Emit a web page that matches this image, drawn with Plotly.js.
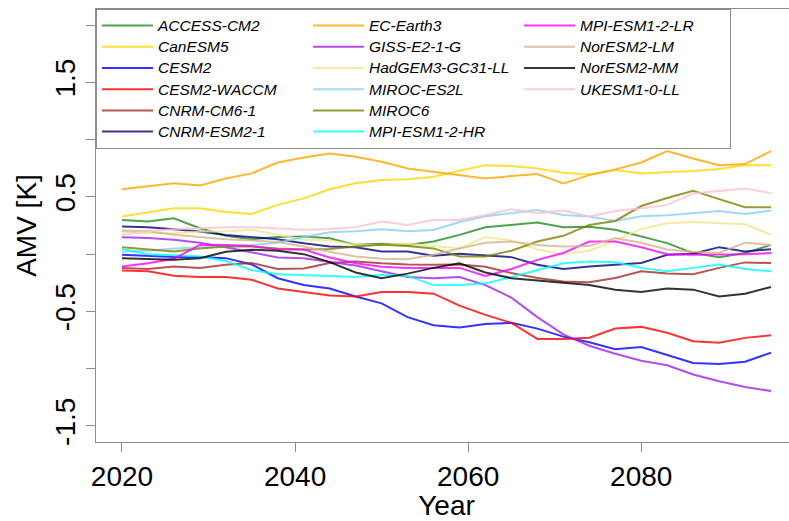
<!DOCTYPE html>
<html>
<head>
<meta charset="utf-8">
<script src="https://cdn.plot.ly/plotly-3.0.1.min.js"></script>
<style>
html,body{margin:0;padding:0;overflow:hidden;background:#fff;}
#chart{width:797px;height:521px;}
</style>
</head>
<body>
<div id="chart"></div>
<script>
// Years (3-year sampling of the annual curves)
const years = [2020,2023,2026,2029,2032,2035,2038,2041,2044,2047,2050,2053,2056,2059,2062,2065,2068,2071,2074,2077,2080,2083,2086,2089,2092,2095];

const models = ["ACCESS-CM2","CanESM5","CESM2","CESM2-WACCM","CNRM-CM6-1","CNRM-ESM2-1",
                "EC-Earth3","GISS-E2-1-G","HadGEM3-GC31-LL","MIROC-ES2L","MIROC6","MPI-ESM1-2-HR",
                "MPI-ESM1-2-LR","NorESM2-LM","NorESM2-MM","UKESM1-0-LL"];
const colors = ["#228B22","#FFD700","#0000FF","#FF0000","#A52A2A","#000080",
                "#FFA500","#A020F0","#F0E68C","#87CEFA","#808000","#00FFFF",
                "#FF00FF","#D2B48C","#000000","#FFC0CB"];

const ACCESS_CM2   = [0.299,0.284,0.313,0.226,0.160,0.130,0.150,0.155,0.139,0.081,0.090,0.080,0.110,0.168,0.235,0.255,0.276,0.235,0.240,0.212,0.154,0.096,0.009,-0.026,0.009,0.081];
const CanESM5      = [0.328,0.363,0.400,0.400,0.368,0.351,0.430,0.487,0.566,0.618,0.647,0.653,0.676,0.728,0.777,0.769,0.748,0.711,0.696,0.734,0.705,0.717,0.725,0.743,0.777,0.777];
const CESM2        = [-0.006,-0.015,-0.026,-0.026,-0.035,-0.090,-0.210,-0.270,-0.300,-0.370,-0.430,-0.550,-0.620,-0.640,-0.610,-0.600,-0.650,-0.720,-0.770,-0.830,-0.810,-0.880,-0.950,-0.960,-0.940,-0.860];
const CESM2_WACCM  = [-0.142,-0.150,-0.188,-0.200,-0.200,-0.223,-0.300,-0.330,-0.360,-0.370,-0.330,-0.330,-0.345,-0.450,-0.530,-0.600,-0.740,-0.740,-0.730,-0.650,-0.635,-0.687,-0.760,-0.774,-0.731,-0.708];
const CNRM_CM6_1   = [-0.122,-0.130,-0.107,-0.120,-0.093,-0.078,-0.130,-0.125,-0.078,-0.064,-0.080,-0.090,-0.093,-0.090,-0.110,-0.165,-0.209,-0.238,-0.246,-0.208,-0.150,-0.170,-0.175,-0.120,-0.072,-0.078];
const CNRM_ESM2_1  = [0.241,0.235,0.218,0.197,0.168,0.148,0.130,0.096,0.067,0.060,0.023,0.023,-0.015,0.003,-0.010,-0.026,-0.093,-0.130,-0.107,-0.093,-0.078,-0.006,0.003,0.061,0.023,0.043];
const EC_Earth3    = [0.566,0.595,0.618,0.600,0.661,0.705,0.800,0.844,0.879,0.850,0.806,0.748,0.720,0.690,0.661,0.682,0.699,0.618,0.690,0.740,0.800,0.900,0.835,0.777,0.786,0.900];
const GISS_E2_1_G  = [0.148,0.140,0.125,0.100,0.061,0.014,-0.030,-0.035,-0.070,-0.100,-0.150,-0.200,-0.210,-0.200,-0.270,-0.380,-0.550,-0.700,-0.800,-0.870,-0.930,-0.970,-1.050,-1.110,-1.160,-1.195];
const HadGEM3     = [0.197,0.183,0.183,0.197,0.197,0.212,0.170,0.125,0.120,0.080,0.080,0.090,0.070,0.050,0.150,0.120,0.040,0.000,0.030,0.120,0.220,0.270,0.280,0.270,0.260,0.170];
const MIROC_ES2L   = [0.020,0.030,0.050,0.060,0.070,0.080,0.100,0.150,0.190,0.200,0.218,0.200,0.210,0.280,0.330,0.357,0.386,0.342,0.328,0.290,0.330,0.340,0.357,0.377,0.350,0.380];
const MIROC6       = [0.061,0.043,0.023,0.050,0.067,0.067,0.050,0.040,0.045,0.067,0.081,0.070,0.050,-0.020,-0.020,0.030,0.110,0.160,0.255,0.290,0.420,0.490,0.554,0.480,0.410,0.410];
const MPI_HR       = [0.045,0.000,-0.010,-0.020,-0.060,-0.140,-0.175,-0.180,-0.190,-0.200,-0.180,-0.190,-0.270,-0.270,-0.255,-0.200,-0.140,-0.080,-0.065,-0.070,-0.120,-0.150,-0.120,-0.090,-0.130,-0.150];
const MPI_LR       = [-0.107,-0.080,-0.040,0.080,0.080,0.070,0.040,0.040,-0.030,-0.080,-0.110,-0.120,-0.120,-0.120,-0.190,-0.130,-0.050,0.010,0.110,0.110,0.060,0.000,-0.006,-0.006,0.000,0.009];
const NorESM2_LM   = [0.206,0.200,0.170,0.150,0.130,0.118,0.105,0.067,0.020,-0.020,-0.040,-0.045,-0.006,0.050,0.100,0.110,0.080,0.067,0.070,0.140,0.100,0.040,0.020,0.010,0.100,0.080];
const NorESM2_MM   = [-0.035,-0.040,-0.050,-0.035,0.020,0.038,0.030,0.000,-0.070,-0.160,-0.210,-0.170,-0.120,-0.080,-0.160,-0.210,-0.230,-0.245,-0.270,-0.310,-0.330,-0.300,-0.310,-0.370,-0.345,-0.287];
const UKESM1_0_LL  = [0.170,0.200,0.218,0.225,0.235,0.235,0.226,0.212,0.220,0.235,0.284,0.255,0.300,0.299,0.342,0.392,0.357,0.380,0.328,0.377,0.400,0.430,0.530,0.554,0.574,0.531];

const series = [ACCESS_CM2,CanESM5,CESM2,CESM2_WACCM,CNRM_CM6_1,CNRM_ESM2_1,
                EC_Earth3,GISS_E2_1_G,HadGEM3,MIROC_ES2L,MIROC6,MPI_HR,
                MPI_LR,NorESM2_LM,NorESM2_MM,UKESM1_0_LL];

const yTickVals = [-1.5,-1,-0.5,0,0.5,1,1.5,2];
const yTickText = ["-1.5","","-0.5","","0.5","","1.5",""];
const xTickVals = [2020,2040,2060,2080];

// R legend is column-major with 6 rows; Plotly fills rows, so rank each slot
function rankFor(slot){ const r = slot % 6, c = Math.floor(slot/6); return r*3 + c + 1; }

const traces = series.map((ys,i)=>({
  type:'scatter', mode:'lines', x:years, y:ys,
  name:'<span style="font-size:15.5px">'+models[i]+'</span>',
  line:{color:colors[i], width:2},
  opacity:0.8,
  legendrank: rankFor(i),
  hoverinfo:'skip'
}));
// blank slot (row 5 of third column)
traces.push({type:'scatter',mode:'lines',x:[null],y:[null],name:' ',
  line:{color:'rgba(0,0,0,0)',width:0},legendrank:rankFor(16),hoverinfo:'skip',showlegend:true});

const axisGray = '#8c8c8c';
const layout = {
  width:797, height:521,
  margin:{l:96, r:0, t:9, b:79},
  paper_bgcolor:'#fff', plot_bgcolor:'#fff',
  font:{family:'"Liberation Sans", Arial, sans-serif', color:'#000'},
  showlegend:true,
  xaxis:{
    range:[2017,2098], tickvals:xTickVals, ticktext:xTickVals.map(String),
    ticks:'outside', ticklen:9, tickwidth:1, tickcolor:axisGray,
    showline:true, linecolor:axisGray, linewidth:1, mirror:true,
    showgrid:false, zeroline:false,
    tickfont:{size:28, color:'#000'},
    title:{text:'Year', font:{size:28,color:'#000'}, standoff:12}
  },
  yaxis:{
    range:[-1.64,2.14], tickvals:yTickVals, ticktext:yTickText,
    ticks:'outside', ticklen:9, tickwidth:1, tickcolor:axisGray,
    showline:true, linecolor:axisGray, linewidth:1, mirror:true,
    showgrid:false, zeroline:false, tickangle:-90,
    tickfont:{size:28, color:'#000'},
    title:{text:'AMV [K]', font:{size:28,color:'#000'}, standoff:4}
  },
  legend:{
    x:0, xanchor:'left', y:1, yanchor:'top',
    orientation:'h', entrywidth:145, entrywidthmode:'pixels', itemwidth:51,
    traceorder:'normal',
    bgcolor:'#fff', bordercolor:axisGray, borderwidth:1,
    font:{size:14, style:'italic', color:'#000'}
  }
};

Plotly.newPlot('chart', traces, layout, {displayModeBar:false, staticPlot:true});
</script>
</body>
</html>
